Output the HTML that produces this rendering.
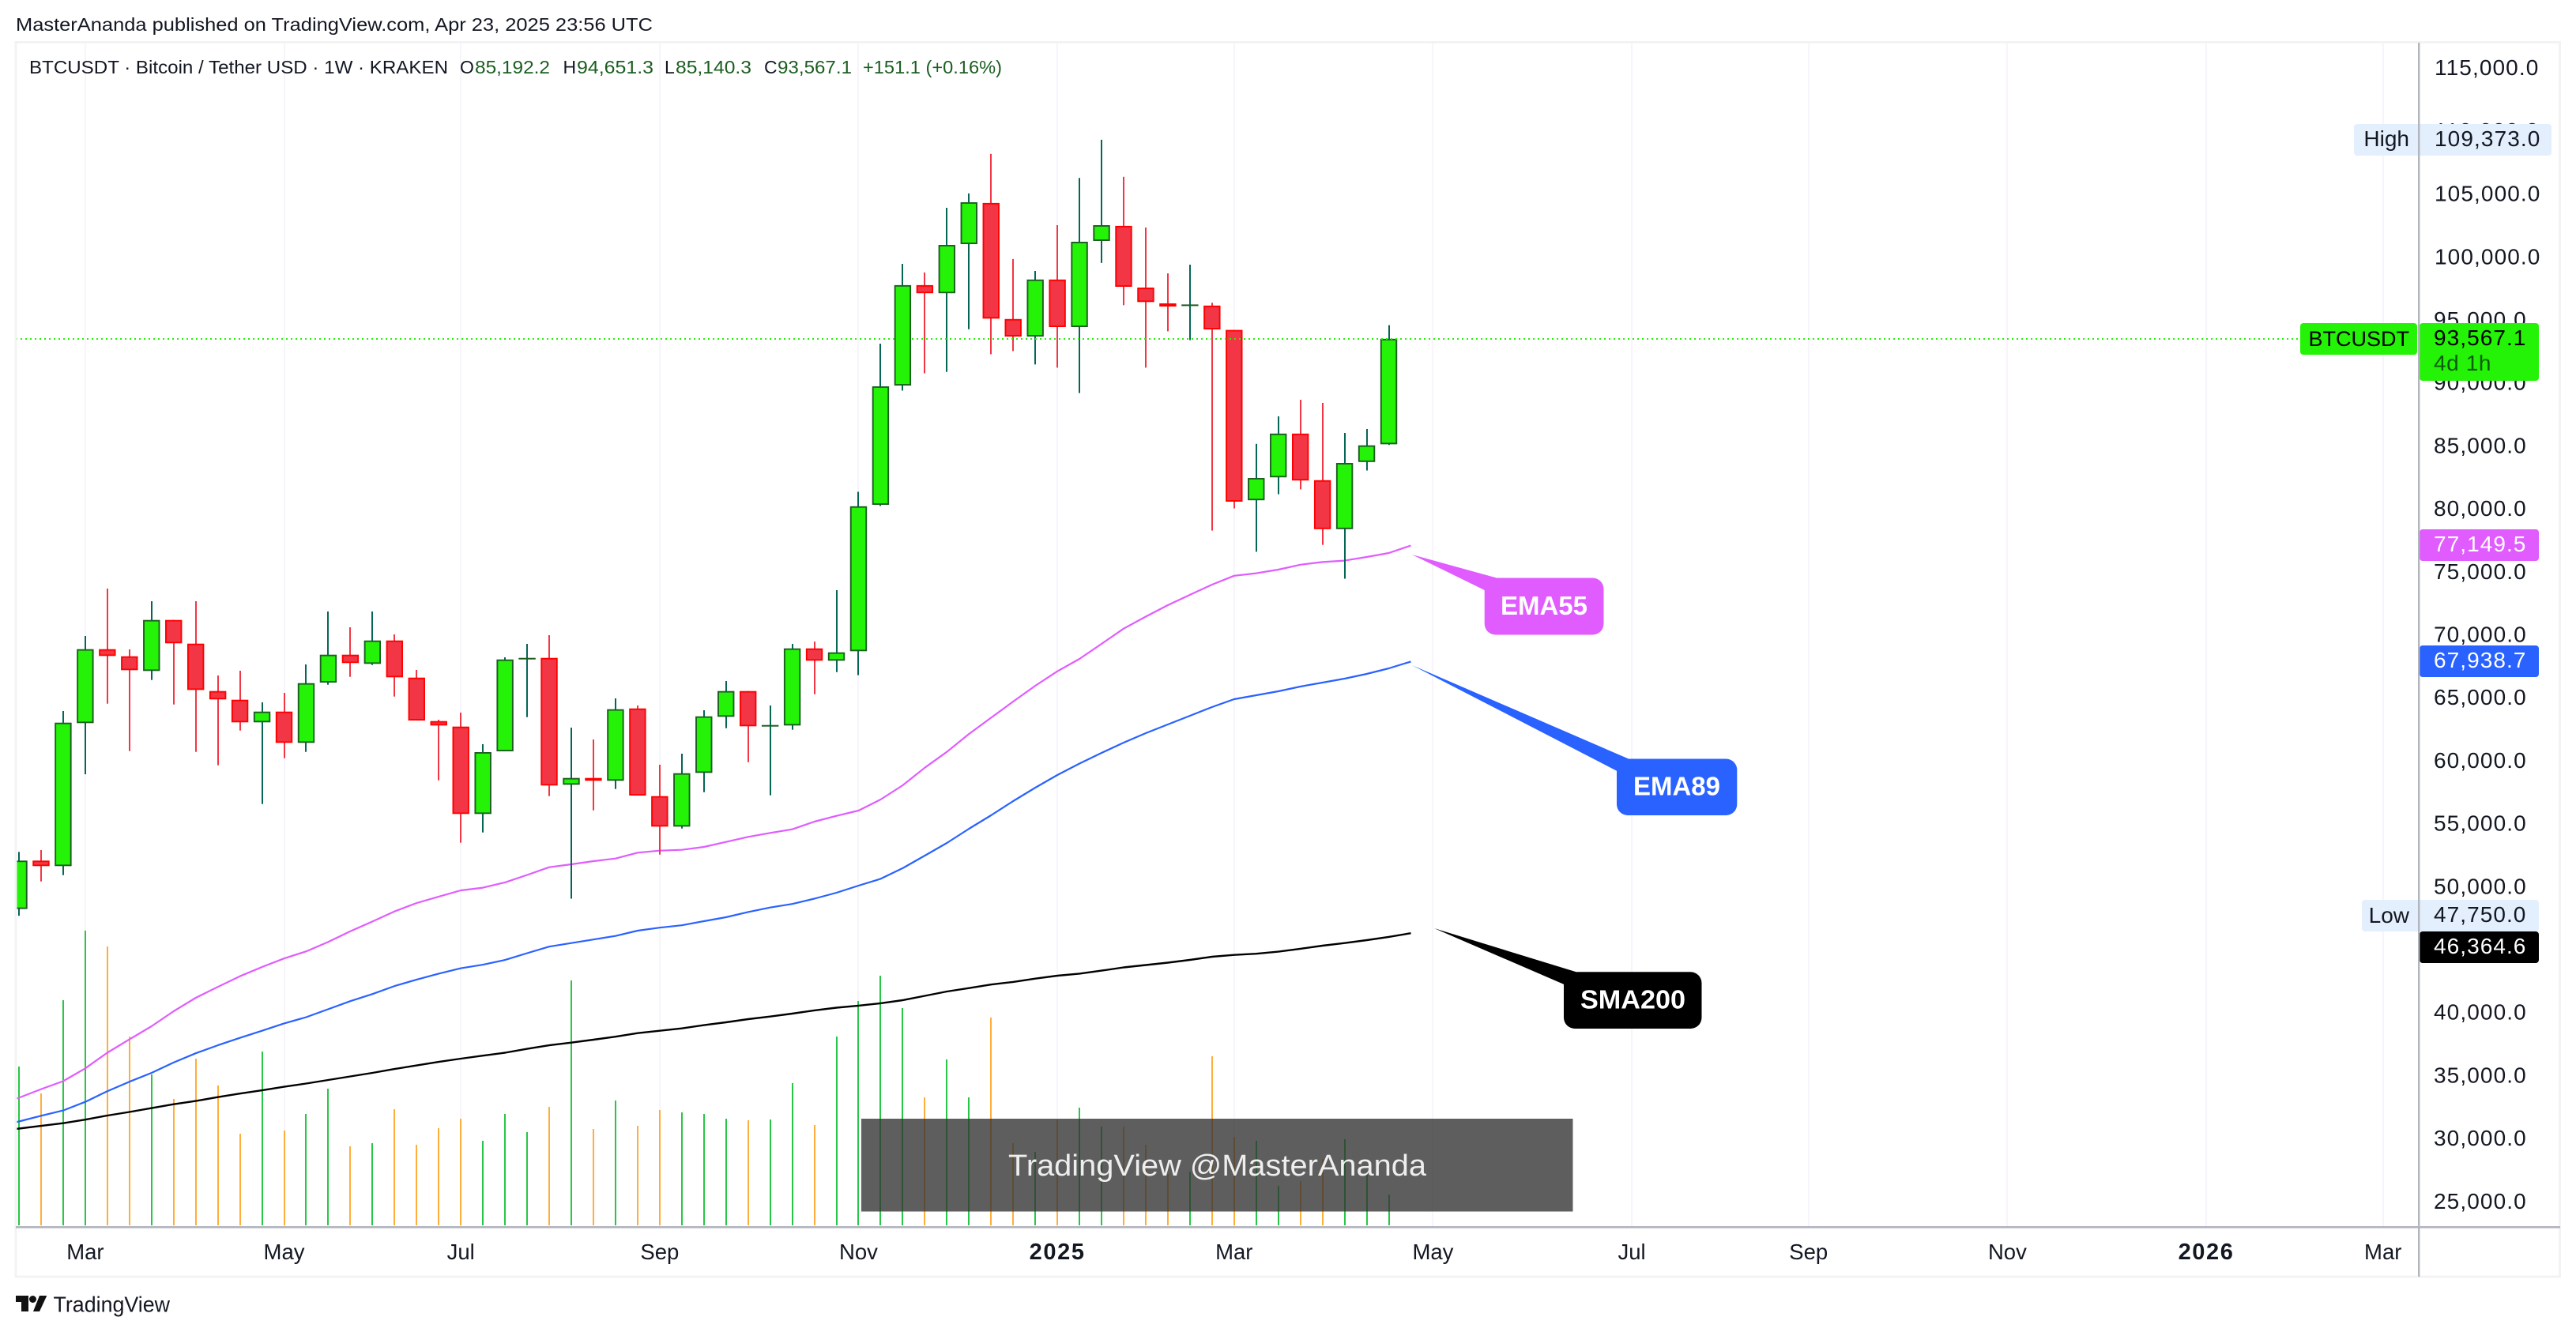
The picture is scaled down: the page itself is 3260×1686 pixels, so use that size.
<!DOCTYPE html>
<html lang="en">
<head>
<meta charset="utf-8">
<title>BTCUSDT Weekly Chart</title>
<style>
html,body{margin:0;padding:0;background:#fff;}
svg{display:block;}
text{font-family:"Liberation Sans",sans-serif;}
</style>
</head>
<body>
<svg id="chart" xmlns="http://www.w3.org/2000/svg" width="3260" height="1686" viewBox="0 0 3260 1686">
  <defs>
    <clipPath id="plot-clip"><rect x="20" y="54" width="3041" height="1499"/></clipPath>
  </defs>
  <rect x="0" y="0" width="3260" height="1686" fill="#ffffff"/>
  <text x="20" y="39" font-size="23" fill="#131722" textLength="806" lengthAdjust="spacingAndGlyphs">MasterAnanda published on TradingView.com, Apr 23, 2025 23:56 UTC</text>

  <g id="grid"></g>
  <g clip-path="url(#plot-clip)">
    <g id="volume"></g>
    <g id="lines"></g>
    <g id="candles"></g>
    <g id="price-line"></g>
  </g>

  <rect x="20" y="53.5" width="3219.5" height="1562.5" fill="none" stroke="#f3f3f3" stroke-width="3"/>

  <g font-size="23">
    <text x="37" y="93" fill="#131722" textLength="530" lengthAdjust="spacingAndGlyphs">BTCUSDT · Bitcoin / Tether USD · 1W · KRAKEN</text>
    <text x="582" y="93" fill="#131722">O</text>
    <text x="601" y="93" fill="#1b5e20" textLength="95" lengthAdjust="spacingAndGlyphs">85,192.2</text>
    <text x="712.5" y="93" fill="#131722">H</text>
    <text x="730" y="93" fill="#1b5e20" textLength="97" lengthAdjust="spacingAndGlyphs">94,651.3</text>
    <text x="841" y="93" fill="#131722">L</text>
    <text x="855" y="93" fill="#1b5e20" textLength="96" lengthAdjust="spacingAndGlyphs">85,140.3</text>
    <text x="967" y="93" fill="#131722">C</text>
    <text x="984" y="93" fill="#1b5e20" textLength="94" lengthAdjust="spacingAndGlyphs">93,567.1</text>
    <text x="1092" y="93" fill="#1b5e20" textLength="176" lengthAdjust="spacingAndGlyphs">+151.1 (+0.16%)</text>
  </g>

  <g id="price-ticks"></g>
  <g id="time-ticks"></g>

  <!-- Axis tags -->
  <g>
    <rect x="2979" y="157" width="250" height="40" rx="4" fill="#e3effd"/>
    <text x="3049" y="185" text-anchor="end" font-size="28" fill="#131722">High</text>
    <text x="3081" y="185" font-size="28" letter-spacing="1.1" fill="#131722">109,373.0</text>
  </g>
  <g>
    <rect x="2911" y="409" width="148" height="40" rx="4" fill="#24f207"/>
    <rect x="3062" y="409" width="151" height="73" rx="4" fill="#24f207"/>
    <text x="2921.5" y="438" font-size="27" fill="#000000">BTCUSDT</text>
    <text x="3080" y="437" font-size="28" letter-spacing="1.05" fill="#000000">93,567.1</text>
    <text x="3080" y="469" font-size="28" letter-spacing="0.6" fill="#0d5c0a">4d 1h</text>
  </g>
  <g>
    <rect x="3062" y="670" width="151" height="40" rx="4" fill="#e05cff"/>
    <text x="3080" y="698" font-size="28" letter-spacing="1.05" fill="#ffffff">77,149.5</text>
  </g>
  <g>
    <rect x="3062" y="817" width="151" height="40" rx="4" fill="#2962ff"/>
    <text x="3080" y="845" font-size="28" letter-spacing="1.05" fill="#ffffff">67,938.7</text>
  </g>
  <g>
    <rect x="2989" y="1139" width="224" height="40" rx="4" fill="#e3effd"/>
    <text x="3049" y="1168" text-anchor="end" font-size="28" fill="#131722">Low</text>
    <text x="3080" y="1167" font-size="28" letter-spacing="1.05" fill="#131722">47,750.0</text>
  </g>
  <g>
    <rect x="3062" y="1179" width="151" height="40" rx="4" fill="#000000"/>
    <text x="3080" y="1207" font-size="28" letter-spacing="1.05" fill="#ffffff">46,364.6</text>
  </g>

  <rect x="3060" y="54" width="2.4" height="1562" fill="#b2b5be"/>
  <rect x="20" y="1552" width="3220" height="2.6" fill="#b2b5be"/>

  <!-- Callouts -->
  <g>
    <path fill="#e05cff" d="M1787 702 L1894 731.5 H2015.5 a14 14 0 0 1 14 14 V789.5 a14 14 0 0 1 -14 14 H1892.7 a14 14 0 0 1 -14 -14 V747 Z"/>
    <text x="1954" y="778" text-anchor="middle" font-size="33" font-weight="700" fill="#ffffff">EMA55</text>
  </g>
  <g>
    <path fill="#2962ff" d="M1787 842 L2061 960.5 H2184.3 a14 14 0 0 1 14 14 V1018 a14 14 0 0 1 -14 14 H2060 a14 14 0 0 1 -14 -14 V975.7 Z"/>
    <text x="2122" y="1006.5" text-anchor="middle" font-size="33" font-weight="700" fill="#ffffff">EMA89</text>
  </g>
  <g>
    <path fill="#000000" d="M1815 1175 L1994.7 1230.3 H2139.5 a14 14 0 0 1 14 14 V1288 a14 14 0 0 1 -14 14 H1993 a14 14 0 0 1 -14 -14 V1245.9 Z"/>
    <text x="2000" y="1276.6" font-size="33" font-weight="700" fill="#ffffff" textLength="133" lengthAdjust="spacingAndGlyphs">SMA200</text>
  </g>

  <!-- Watermark -->
  <g>
    <rect x="1090" y="1416" width="900.5" height="117.5" fill="#333333" fill-opacity="0.79"/>
    <text x="1276" y="1488" font-size="38" fill="#eeeeee" textLength="529" lengthAdjust="spacingAndGlyphs">TradingView @MasterAnanda</text>
  </g>

  <!-- Footer logo -->
  <g>
    <path fill="#111111" d="M20 1640 H36 V1660 H27 V1648 H20 Z"/>
    <circle cx="41.5" cy="1644.5" r="4.5" fill="#111111"/>
    <path fill="#111111" d="M50 1640 H59.3 L50 1660 H42 Z"/>
    <text x="67.5" y="1660.5" font-size="28" fill="#131722" textLength="147.5" lengthAdjust="spacingAndGlyphs">TradingView</text>
  </g>
</svg>

<script>
const opens = [48288,52133,51694,63049,68921,68356,67189,71242,69360,65596,64906,63111,63965,61480,66267,68482,67754,69611,66662,63212,62773,55834,60809,68180,68230,58155,58695,58470,64215,57252,54830,59096,63550,65596,62860,62860,68983,68005,68758,80382,89855,97829,97183,101085,104354,95138,93746,98275,94498,101337,102535,97635,96380,96235,96205,94272,80746,82566,86041,82340,78451,83783,85192.2];
const highs = [52824,52967,64009,69969,73733,68903,72729,71242,72729,66832,67208,64699,65451,67710,71913,70658,71913,70094,67271,63318,63883,61374,68274,69341,70031,62691,61750,65012,64448,59743,60621,64071,66392,65596,64448,69341,69529,73607,81417,93180,99517,98839,103971,105112,108249,99900,98952,102591,106343,109373,106430,102403,98764,99454,96431,94272,85226,87409,88726,88475,86091,86405,94651.3];
const lows = [47750,50477,50978,58990,64592,60828,66474,64529,60765,59699,62459,56626,60263,60765,66098,66725,67666,65157,63256,58507,53551,54366,60809,63525,57252,49109,56123,57817,57296,52610,54680,57566,62647,59950,57315,62521,65345,67101,66857,80294,89454,90828,90940,94328,92340,92591,91531,91273,89260,99592,96236,91273,94160,93463,78338,80100,76657,81223,81612,77202,74517,83111,85140.3];
const closes = [52133,51694,63086,68921,68381,67252,71242,69385,65683,64931,63111,63965,61480,66223,68482,67817,69611,66687,63256,62860,55834,60746,68105,68230,58093,58695,58470,64153,57296,54830,59071,63588,65596,62798,62898,68983,68005,68670,80269,89793,97829,97183,101022,104410,95170,93746,98275,94498,101274,102591,97698,96487,96130,96293,94310,80634,82515,86041,82315,78451,83707,85107,93567.1];
const volumes = [201,167,285,373,353,239,191,160,211,177,116,220,120,141,173,100,104,147,102,123,135,107,141,118,150,310,122,158,126,146,143,141,135,133,134,180,127,239,284,316,275,162,210,162,263,104,93,133,149,125,125,102,65,68,214,112,107,50,56,84,109,64,39];
/* Moving-average arrays begin one bar before the first visible candle. */
const ema55 = [32703,33300,33984,34617,35633,36876,37936,38978,40170,41236,42102,42949,43683,44360,44925,45678,46525,47297,48100,48765,49273,49768,49981,50402,50991,51606,51839,52090,52297,52761,52924,52987,53219,53614,54016,54330,54618,55226,55684,56105,56983,58112,59511,60765,62189,63475,64761,66016,67165,68149,69341,70551,71505,72416,73238,74046,74749,74950,75238,75627,75841,75953,76242,76556,77149.5];
const ema89 = [31010,31418,31870,32290,32974,33821,34574,35277,36099,36833,37466,38056,38620,39204,39700,40333,40973,41538,42171,42686,43156,43583,43865,44242,44781,45302,45584,45866,46149,46569,46807,46995,47321,47635,48049,48407,48689,49110,49580,50145,50684,51531,52528,53533,54661,55728,56857,57923,58927,59838,60684,61500,62253,62943,63633,64323,64950,65264,65577,65954,66267,66581,66957,67397,67938.7];
const sma200 = [30665,30854,31067,31280,31563,31889,32171,32479,32786,33044,33351,33633,33890,34172,34430,34712,34994,35277,35584,35866,36148,36406,36644,36876,37184,37466,37679,37911,38150,38432,38620,38808,39066,39291,39542,39749,39981,40239,40452,40615,40803,41048,41393,41738,42007,42289,42496,42760,42992,43156,43395,43652,43840,44028,44247,44498,44643,44737,44900,45132,45377,45584,45816,46073,46364.6];
const priceTicks = [115000,110000,105000,100000,95000,90000,85000,80000,75000,70000,65000,60000,55000,50000,30000,25000,35000,40000];
const timeTickBars = [3,12,20,29,38,47,55,64,73,81,90,99,107];
const timeTickLabels = ["Mar","May","Jul","Sep","Nov","2025","Mar","May","Jul","Sep","Nov","2026","Mar"];
const timeTickBold = ["2025","2026"];

const SVG_NS = "http://www.w3.org/2000/svg";
function xAt(i){ return 24 + 27.96 * i; }
function yAt(p){ return 87.2 + (115000 - p) * 0.01594; }
function volY(v){ return 1551 - v; }
function make(tag, attrs, parent){
  const el = document.createElementNS(SVG_NS, tag);
  for (const k in attrs) el.setAttribute(k, attrs[k]);
  parent.appendChild(el);
  return el;
}
function fmt(n){ return n.toLocaleString("en-US",{minimumFractionDigits:1,maximumFractionDigits:1}); }

const gridG = document.getElementById("grid");
const volumeG = document.getElementById("volume");
const linesG = document.getElementById("lines");
const candlesG = document.getElementById("candles");
const priceLineG = document.getElementById("price-line");
const priceTickG = document.getElementById("price-ticks");
const timeTickG = document.getElementById("time-ticks");

timeTickBars.forEach(function(bar, n){
  const gx = Math.round(xAt(bar));
  const gridLine = make("rect", {x: gx - 1, y: 55, width: 2, height: 1497, fill: "#f8f4fb"}, gridG);
  
  
  const label = timeTickLabels[n];
  const bold = timeTickBold.indexOf(label) >= 0;
  const t = make("text", {x: xAt(bar), y: 1594, "text-anchor": "middle", "font-size": bold ? 29 : 27.5, "font-weight": bold ? 700 : 400, "letter-spacing": bold ? 1.6 : 0, fill: "#131722"}, timeTickG);
  
  
  t.textContent = label;
});

priceTicks.forEach(function(p){
  const t = make("text", {x: p >= 100000 ? 3081 : 3080, y: yAt(p) + 8, "font-size": 28, "letter-spacing": 1.1, fill: "#131722"}, priceTickG);
  
  
  t.textContent = fmt(p);
});

volumes.forEach(function(v, i){
  const up = closes[i] >= opens[i];
  const bar = make("rect", {x: Math.round(xAt(i)) - 1, y: volY(v), width: 2, height: v, fill: up ? "#28c646" : "#ffae3b"}, volumeG);
  
  
});

function drawLine(values, color, width, name){
  const pts = values.map(function(v, i){ return xAt(i - 1).toFixed(1) + "," + yAt(v).toFixed(1); }).join(" ");
  return make("polyline", {points: pts, fill: "none", stroke: color, "stroke-width": width, "stroke-linejoin": "round", "data-series": name}, linesG);
}
const sma200Line = drawLine(sma200, "#000000", 2.4, "sma200");


const ema89Line = drawLine(ema89, "#2962ff", 2.2, "ema89");


const ema55Line = drawLine(ema55, "#e05cff", 2.2, "ema55");



opens.forEach(function(o, i){
  const c = closes[i];
  const up = c >= o;
  const cx = xAt(i);
  const wickColor = up ? "#056656" : "#f23645";
  const fillColor = up ? "#24f207" : "#f23645";
  const borderColor = up ? "#1b5e20" : "#ff0000";
  const wick = make("rect", {x: Math.round(cx) - 1, y: yAt(highs[i]), width: 2, height: yAt(lows[i]) - yAt(highs[i]), fill: wickColor}, candlesG);
  
  
  const top = yAt(Math.max(o, c));
  const h = Math.max(2, yAt(Math.min(o, c)) - top);
  const outer = make("rect", {x: cx - 10.7, y: top, width: 21.4, height: h, fill: borderColor}, candlesG);
  
  
  if (h > 4) {
    const inner = make("rect", {x: cx - 8.8, y: top + 1.9, width: 17.6, height: h - 3.8, fill: fillColor}, candlesG);
    
    
  }
});

const lastY = Math.round(yAt(closes[closes.length - 1]));
const lastPriceLine = make("line", {x1: 20, x2: 2909, y1: lastY, y2: lastY, stroke: "#24f207", "stroke-width": 2, "stroke-dasharray": "2 4"}, priceLineG);


</script>
</body>
</html>
